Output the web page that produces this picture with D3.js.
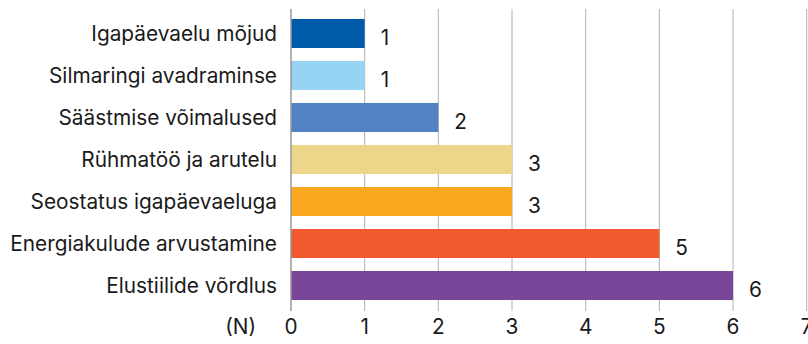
<!DOCTYPE html>
<html><head><meta charset="utf-8">
<script src="https://cdn.jsdelivr.net/npm/d3@7"></script>
<style>body{margin:0;background:#fff}svg{display:block}text{font-family:Inter,"Noto Sans",sans-serif;fill:#1a1a1a}</style>
</head><body>
<script>
const categories = ["Igapäevaelu mõjud","Silmaringi avadraminse","Säästmise võimalused","Rühmatöö ja arutelu","Seostatus igapäevaeluga","Energiakulude arvustamine","Elustiilide võrdlus"];
const values = [1,1,2,3,3,5,6];
const colors = ["#005BAA","#97D3F2","#5282C2","#EDD58A","#F9A81F","#F15A2C","#7A4699"];
const ticks = [0,1,2,3,4,5,6,7];
const axisTitle = "(N)";

const W=808,H=344,FS=20.8;
const svg=d3.select("body").append("svg").attr("width",W).attr("height",H);
const x=d3.scaleLinear().domain([0,7]).range([291,806.7]);
const y=d3.scaleBand().domain(categories).range([12.5,306.5]).paddingInner(13/42).paddingOuter(13/84);

svg.append("g").selectAll("line").data(ticks.slice(1)).join("line")
  .attr("x1",d=>x(d)).attr("x2",d=>x(d)).attr("y1",9).attr("y2",311)
  .attr("stroke","#b0b0b0").attr("stroke-width",1);

svg.append("g").selectAll("rect").data(values).join("rect")
  .attr("x",x(0)).attr("y",(d,i)=>y(categories[i]))
  .attr("width",d=>x(d)-x(0)).attr("height",y.bandwidth())
  .attr("fill",(d,i)=>colors[i]);

svg.append("line").attr("x1",x(0)).attr("x2",x(0)).attr("y1",9).attr("y2",311)
  .attr("stroke","#999").attr("stroke-width",1.5);

svg.append("g").selectAll("text").data(categories).join("text")
  .attr("x",277).attr("y",d=>y(d)+y.bandwidth()/2).attr("dy","0.35em")
  .attr("text-anchor","end").attr("font-size",FS).text(d=>d);

svg.append("g").selectAll("text").data(values).join("text")
  .attr("x",d=>x(d)+16).attr("y",(d,i)=>y(categories[i])+y.bandwidth()/2+4.5).attr("dy","0.35em")
  .attr("font-size",FS).text(d=>d);

svg.append("g").selectAll("text").data(ticks).join("text")
  .attr("x",d=>x(d)).attr("y",327).attr("dy","0.35em")
  .attr("text-anchor","middle").attr("font-size",FS).text(d=>d);

svg.append("text").attr("x",256).attr("y",327).attr("dy","0.35em")
  .attr("text-anchor","end").attr("font-size",FS).text(axisTitle);
</script>
</body></html>
